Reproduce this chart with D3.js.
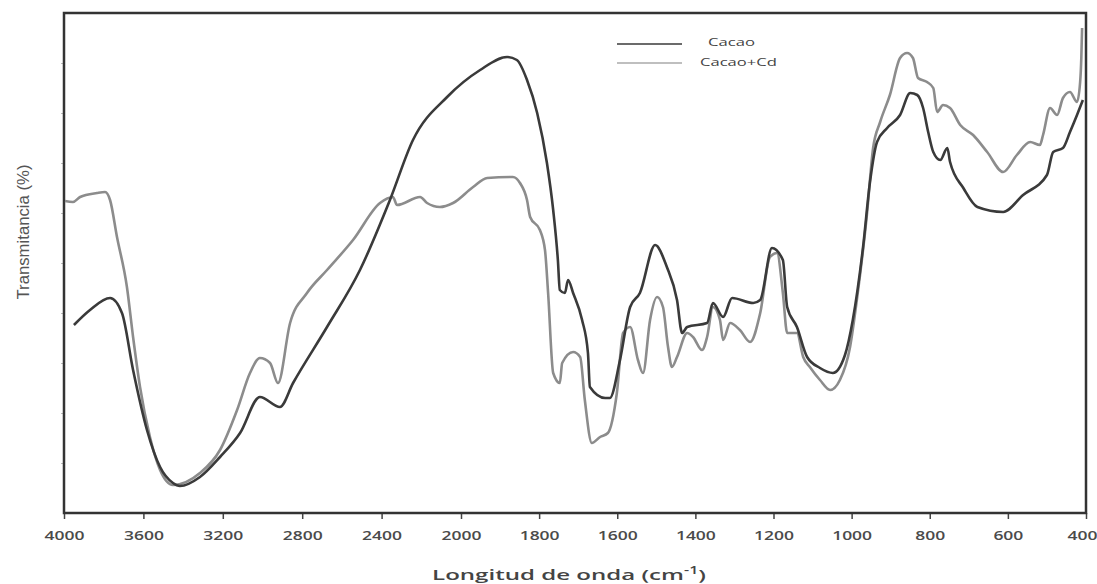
<!DOCTYPE html>
<html>
<head>
<meta charset="utf-8">
<script src="https://cdn.jsdelivr.net/npm/d3@7"></script>
<style>
  body { margin: 0; background: #fff; }
</style>
</head>
<body>
<div id="chart"></div>
<script>
// wavenumber (cm-1) and transmittance (arbitrary %)
const cacaoWn = [3950, 3869, 3768, 3708, 3652, 3582, 3516, 3451, 3416, 3315, 3214, 3113, 3013, 2912, 2846, 2675, 2509, 2358, 2242, 2070,
  1951, 1882, 1857, 1831, 1805, 1780, 1764, 1752, 1747, 1734, 1726, 1713, 1690, 1675, 1670, 1631, 1619, 1593, 1567, 1542,
  1503, 1473, 1447, 1434, 1421, 1370, 1355, 1329, 1306, 1252, 1234, 1204, 1176, 1165, 1140, 1114, 1081, 1048, 1017, 997,
  971, 953, 935, 909, 876, 850, 832, 817, 804, 791, 773, 755, 748, 714, 678, 612, 561, 500, 484, 459, 441, 423, 408]
const cacaoT = [37.6, 40.6, 43, 40, 28.6, 16.6, 9.2, 6, 5.4, 7.2, 11.2, 16, 23.2, 21.2, 26, 37.2, 48.6, 62.6, 74.6, 83.2,
  88.6, 91.2, 90.6, 86.6, 80, 70, 60.6, 50.6, 44.6, 44, 46.6, 44, 38.6, 32, 25.2, 23, 23, 30.6, 41.2, 44,
  53.6, 49.2, 42.6, 36, 37.2, 38, 42, 39.2, 43, 42, 42.6, 53, 50.6, 41.2, 37.2, 31.2, 29, 28, 31.6, 38.6,
  53, 66.2, 74.2, 77, 79.6, 84, 83.6, 81, 76.2, 72.2, 70.6, 73, 70.2, 65, 61.2, 60.2, 63.6, 67.6, 72.2, 73, 76.2, 79.6, 82.6]

const cacaoCdWn = [3995, 3955, 3919, 3834, 3793, 3768, 3733, 3683, 3652, 3617, 3567, 3516, 3451, 3315, 3214, 3128, 3063, 3013, 2962, 2922,
  2861, 2776, 2675, 2544, 2408, 2343, 2322, 2206, 2171, 2106, 2040, 1969, 1933, 1867, 1849, 1831, 1823, 1798, 1785, 1777,
  1764, 1747, 1741, 1713, 1695, 1683, 1665, 1644, 1624, 1601, 1585, 1567, 1547, 1534, 1516, 1498, 1483, 1470, 1460, 1447,
  1421, 1406, 1383, 1370, 1355, 1337, 1329, 1311, 1286, 1260, 1234, 1209, 1191, 1176, 1165, 1140, 1124, 1107, 1081, 1055,
  1030, 1004, 986, 961, 945, 927, 902, 876, 858, 843, 830, 807, 791, 781, 766, 748, 722, 689, 653, 612,
  577, 543, 518, 510, 492, 474, 459, 441, 423, 415, 412, 410]
const cacaoCdT = [62.4, 62.2, 63.2, 64, 64.2, 62.6, 55.2, 45.2, 35.2, 25.2, 15.2, 8.6, 5.6, 8, 12.6, 20.6, 28, 31, 30, 26,
  38, 44, 48.6, 54.6, 62, 63.2, 61.6, 63.2, 62, 61.2, 62, 65.2, 67, 67.2, 66, 62.6, 59.2, 56.6, 52.6, 44,
  28, 26, 30, 32.2, 31.2, 22.6, 14, 15.2, 16, 24, 36, 37.2, 30.6, 28, 38.6, 43.2, 41.2, 33.2, 29.2, 31.2,
  36, 35.2, 32.6, 35.2, 41.2, 38.6, 34.6, 38, 36.6, 34.2, 40, 51.2, 52, 44, 36, 36, 31.2, 29.2, 26.6, 24.6,
  26.6, 33.2, 43, 59.6, 73, 78.2, 83.6, 91, 92, 91, 87, 86.2, 85, 80.2, 81.6, 81, 77.6, 75.6, 72.2, 68.2,
  71.6, 74.2, 73.6, 75.6, 81, 79.6, 83, 84.2, 82.2, 86.2, 91, 97]

const xTicks = [4000, 3600, 3200, 2800, 2400, 2000, 1800, 1600, 1400, 1200, 1000, 800, 600, 400]
const legendNames = ['Cacao', 'Cacao+Cd']

window.onload = function () {
  const width = 1097
  const height = 584
  const plotLeft = 64, plotRight = 1086, plotTop = 13, plotBottom = 513

  const svg = d3.select('#chart')
    .append('svg')
    .attr('width', width)
    .attr('height', height)

  // the source figure was stretched sideways, so text is widened to match
  function widen (sel, target, cx) {
    const s = target / sel.node().getComputedTextLength()
    sel.attr('transform', 'translate(' + cx + ',0) scale(' + s + ',1) translate(' + (-cx) + ',0)')
  }

  // spectrometer style axis: scale changes at 2000 cm-1
  const x = d3.scaleLinear().domain([4000, 2000, 400]).range([plotLeft, 461, plotRight])
  const y = d3.scaleLinear().domain([0, 100]).range([plotBottom, plotTop])

  // faint minor ticks on the left edge, no labels
  svg.append('g')
    .attr('transform', 'translate(' + plotLeft + ',0)')
    .call(d3.axisLeft(y).tickValues(d3.range(10, 100, 10)).tickSize(3).tickFormat(''))
    .call(g => g.select('.domain').remove())
    .call(g => g.selectAll('line').attr('stroke', '#bbb'))

  const xAxis = svg.append('g')
    .attr('transform', 'translate(0,' + plotBottom + ')')
    .call(d3.axisBottom(x).tickValues(xTicks).tickSize(6).tickPadding(12).tickFormat(d3.format('d')))
  xAxis.select('.domain').remove()
  xAxis.selectAll('line').attr('stroke', '#444').attr('stroke-width', 1.5)
  const tickText = xAxis.selectAll('text')
    .style('font-family', '"Open Sans", sans-serif')
    .style('font-size', '12px')
    .style('font-weight', 600)
    .attr('fill', '#4a4a4a')
  const sx = 40 / tickText.filter(d => d === 4000).node().getComputedTextLength()
  tickText.attr('transform', 'scale(' + sx + ',1)')
  // last label sits against the page edge
  tickText.filter(d => d === 400).attr('x', -4 / sx)

  // frame
  svg.append('rect')
    .attr('x', plotLeft)
    .attr('y', plotTop)
    .attr('width', plotRight - plotLeft)
    .attr('height', plotBottom - plotTop)
    .attr('fill', 'none')
    .attr('stroke', '#333')
    .attr('stroke-width', 2.5)

  const line = d3.line()
    .x(d => x(d[0]))
    .y(d => y(d[1]))
    .curve(d3.curveMonotoneX)

  const cacaoCd = d3.zip(cacaoCdWn, cacaoCdT)
  const cacao = d3.zip(cacaoWn, cacaoT)

  svg.append('path')
    .datum(cacaoCd)
    .attr('d', line)
    .attr('fill', 'none')
    .attr('stroke', '#8c8c8c')
    .attr('stroke-width', 2.6)
    .attr('stroke-linejoin', 'round')

  svg.append('path')
    .datum(cacao)
    .attr('d', line)
    .attr('fill', 'none')
    .attr('stroke', '#3a3a3a')
    .attr('stroke-width', 2.6)
    .attr('stroke-linejoin', 'round')

  // legend
  const legendColors = ['#3a3a3a', '#aaa']
  const legendText = [[708, 46, 47], [700, 66, 77]]
  legendNames.forEach(function (name, i) {
    const ly = 44 + i * 19
    svg.append('line')
      .attr('x1', 617).attr('x2', 682)
      .attr('y1', ly).attr('y2', ly)
      .attr('stroke', legendColors[i])
      .attr('stroke-width', 1.6)
    const t = svg.append('text')
      .attr('x', legendText[i][0])
      .attr('y', legendText[i][1])
      .style('font-family', '"Open Sans", sans-serif')
      .style('font-size', '11.5px')
      .attr('fill', '#444')
      .text(name)
    widen(t, legendText[i][2], legendText[i][0])
  })

  // axis titles
  const xTitle = svg.append('text')
    .attr('x', 569)
    .attr('y', 580)
    .attr('text-anchor', 'middle')
    .style('font-family', '"Open Sans", sans-serif')
    .style('font-size', '15px')
    .style('font-weight', 600)
    .attr('fill', '#444')
  xTitle.append('tspan').text('Longitud de onda (cm')
  xTitle.append('tspan').attr('dy', -6).style('font-size', '10px').text('-1')
  xTitle.append('tspan').attr('dy', 6).text(')')
  widen(xTitle, 274, 569)

  const yTitle = svg.append('text')
    .attr('text-anchor', 'middle')
    .style('font-family', '"Liberation Sans Narrow", "Arial Narrow", sans-serif')
    .style('font-size', '16px')
    .attr('fill', '#555')
    .text('Transmitancia (%)')
  const sy = 135 / yTitle.node().getComputedTextLength()
  yTitle.attr('transform', 'translate(29,232) rotate(-90) scale(' + sy + ',1)')
}
</script>
</body>
</html>
